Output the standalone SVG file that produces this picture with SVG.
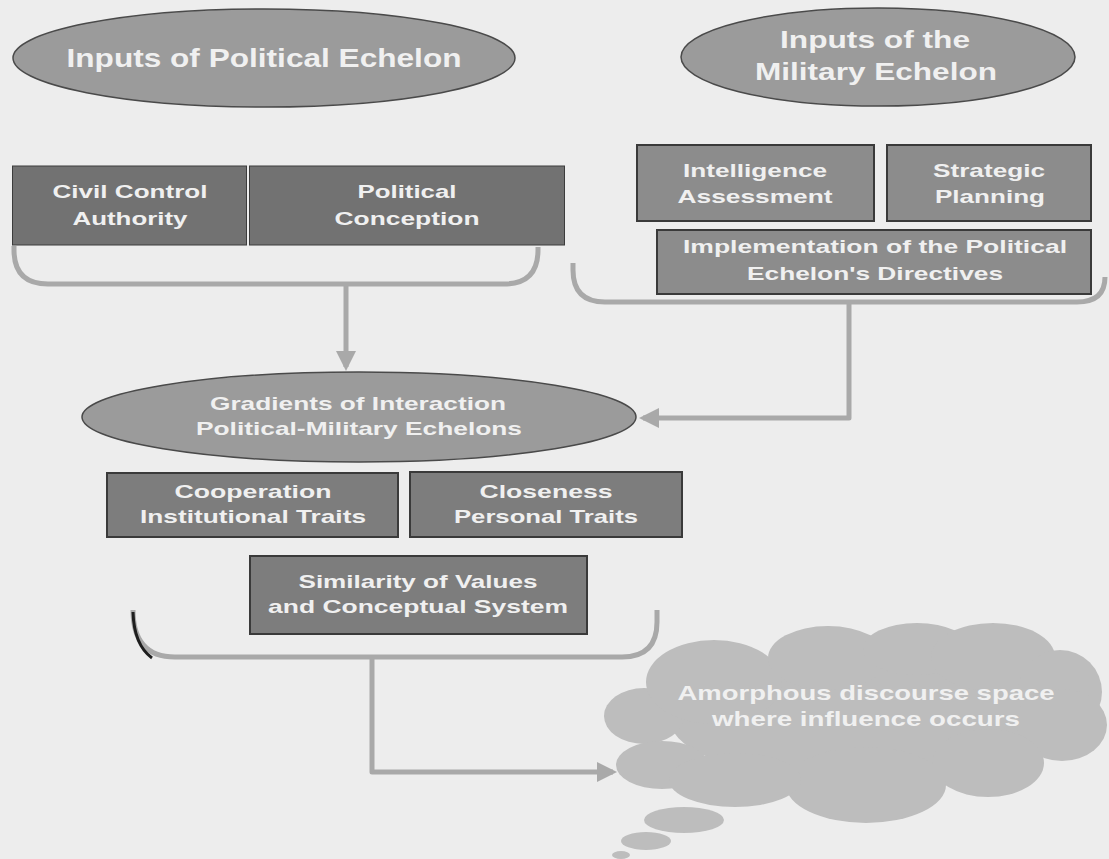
<svg xmlns="http://www.w3.org/2000/svg" width="1109" height="859" viewBox="0 0 1109 859">
<defs>
<style>
.bg{fill:#ededed}
.ell{fill:#9b9b9b;stroke:#4a4a4a;stroke-width:1.5}
.boxd{fill:#727272;stroke:#3c3c3c;stroke-width:1}
.boxm{fill:#8c8c8c;stroke:#3a3a3a;stroke-width:2}
.boxb{fill:#7d7d7d;stroke:#3a3a3a;stroke-width:2}
.t{font-family:"Liberation Sans",Arial,sans-serif;font-weight:bold;fill:#f0f0f0;text-anchor:middle}
.br{fill:none;stroke:#a9a9a9;stroke-width:5;stroke-linejoin:round}
.cl{fill:#bdbdbd}
</style>
<marker id="ah" viewBox="0 0 10 10" refX="8" refY="5" markerWidth="4" markerHeight="4" orient="auto" markerUnits="strokeWidth">
<path d="M0,0 L10,5 L0,10 z" fill="#a9a9a9"/>
</marker>
</defs>
<rect class="bg" x="0" y="0" width="1109" height="859"/>

<g id="connectors">
<path class="br" d="M14,246 L14,250 Q14,284 48,284 L504,284 Q538,284 538,250 L538,247"/>
<path class="br" d="M346,284 L346,367" marker-end="url(#ah)"/>
<path class="br" d="M573,263 L573,270 Q573,302 605,302 L1077,302 Q1105,302 1105,277"/>
<path class="br" d="M849,302 L849,418 L643,418" marker-end="url(#ah)"/>
<path class="br" d="M133,610 Q133,657 175,657 L622,657 Q657,657 657,622 L657,610"/>
<path d="M133,612 Q134,645 152,658" fill="none" stroke="#1e1e1e" stroke-width="3"/>
<path class="br" d="M372,657 L372,772 L613,772" marker-end="url(#ah)"/>
</g>

<g id="political-inputs">
<ellipse class="ell" cx="264" cy="58" rx="251" ry="49"/>
<text class="t" x="264" y="67" font-size="26" textLength="395" lengthAdjust="spacingAndGlyphs">Inputs of Political Echelon</text>
</g>

<g id="military-inputs">
<ellipse class="ell" cx="878" cy="57" rx="197" ry="49"/>
<text class="t" x="875" y="48" font-size="24" textLength="190" lengthAdjust="spacingAndGlyphs">Inputs of the</text>
<text class="t" x="876" y="80" font-size="24" textLength="242" lengthAdjust="spacingAndGlyphs">Military Echelon</text>
</g>

<g id="civil-control">
<rect class="boxd" x="12.5" y="166" width="234" height="79"/>
<text class="t" x="130" y="198" font-size="19" textLength="155" lengthAdjust="spacingAndGlyphs">Civil Control</text>
<text class="t" x="130" y="225" font-size="19" textLength="115" lengthAdjust="spacingAndGlyphs">Authority</text>
</g>

<g id="political-conception">
<rect class="boxd" x="249.5" y="166" width="315" height="79"/>
<text class="t" x="407" y="198" font-size="19" textLength="99" lengthAdjust="spacingAndGlyphs">Political</text>
<text class="t" x="407" y="225" font-size="19" textLength="145" lengthAdjust="spacingAndGlyphs">Conception</text>
</g>

<g id="intelligence">
<rect class="boxm" x="637" y="145" width="237" height="76"/>
<text class="t" x="755" y="177" font-size="19" textLength="144" lengthAdjust="spacingAndGlyphs">Intelligence</text>
<text class="t" x="755" y="203" font-size="19" textLength="155" lengthAdjust="spacingAndGlyphs">Assessment</text>
</g>

<g id="strategic">
<rect class="boxm" x="887" y="145" width="204" height="76"/>
<text class="t" x="989" y="177" font-size="19" textLength="112" lengthAdjust="spacingAndGlyphs">Strategic</text>
<text class="t" x="990" y="203" font-size="19" textLength="110" lengthAdjust="spacingAndGlyphs">Planning</text>
</g>

<g id="implementation">
<rect class="boxm" x="657" y="230" width="434" height="64"/>
<text class="t" x="875" y="253" font-size="19" textLength="384" lengthAdjust="spacingAndGlyphs">Implementation of the Political</text>
<text class="t" x="875" y="280" font-size="19" textLength="256" lengthAdjust="spacingAndGlyphs">Echelon's Directives</text>
</g>

<g id="gradients">
<ellipse class="ell" cx="359" cy="417" rx="277" ry="45"/>
<text class="t" x="358" y="410" font-size="19" textLength="296" lengthAdjust="spacingAndGlyphs">Gradients of Interaction</text>
<text class="t" x="359" y="435" font-size="19" textLength="326" lengthAdjust="spacingAndGlyphs">Political-Military Echelons</text>
</g>

<g id="cooperation">
<rect class="boxb" x="107" y="473" width="291" height="64"/>
<text class="t" x="253" y="498" font-size="19" textLength="157" lengthAdjust="spacingAndGlyphs">Cooperation</text>
<text class="t" x="253" y="523" font-size="19" textLength="226" lengthAdjust="spacingAndGlyphs">Institutional Traits</text>
</g>

<g id="closeness">
<rect class="boxb" x="410" y="472" width="272" height="65"/>
<text class="t" x="546" y="498" font-size="19" textLength="133" lengthAdjust="spacingAndGlyphs">Closeness</text>
<text class="t" x="546" y="523" font-size="19" textLength="184" lengthAdjust="spacingAndGlyphs">Personal Traits</text>
</g>

<g id="similarity">
<rect class="boxb" x="250" y="556" width="337" height="78"/>
<text class="t" x="418" y="588" font-size="19" textLength="239" lengthAdjust="spacingAndGlyphs">Similarity of Values</text>
<text class="t" x="418" y="613" font-size="19" textLength="300" lengthAdjust="spacingAndGlyphs">and Conceptual System</text>
</g>

<g id="cloud">
<ellipse class="cl" cx="860" cy="720" rx="190" ry="62"/>
<ellipse class="cl" cx="644" cy="716" rx="40" ry="28"/>
<ellipse class="cl" cx="662" cy="765" rx="46" ry="24"/>
<ellipse class="cl" cx="714" cy="682" rx="68" ry="42"/>
<ellipse class="cl" cx="828" cy="658" rx="60" ry="32"/>
<ellipse class="cl" cx="917" cy="649" rx="54" ry="26"/>
<ellipse class="cl" cx="993" cy="657" rx="62" ry="34"/>
<ellipse class="cl" cx="1060" cy="692" rx="42" ry="42"/>
<ellipse class="cl" cx="1062" cy="725" rx="45" ry="36"/>
<ellipse class="cl" cx="988" cy="763" rx="56" ry="34"/>
<ellipse class="cl" cx="866" cy="785" rx="80" ry="38"/>
<ellipse class="cl" cx="735" cy="780" rx="66" ry="27"/>
<ellipse class="cl" cx="684" cy="820" rx="40" ry="13"/>
<ellipse class="cl" cx="646" cy="841" rx="25" ry="9"/>
<ellipse class="cl" cx="621" cy="855" rx="9" ry="4"/>
<text class="t" x="866" y="700" font-size="21" textLength="377" lengthAdjust="spacingAndGlyphs">Amorphous discourse space</text>
<text class="t" x="866" y="726" font-size="21" textLength="308" lengthAdjust="spacingAndGlyphs">where influence occurs</text>
</g>
</svg>
